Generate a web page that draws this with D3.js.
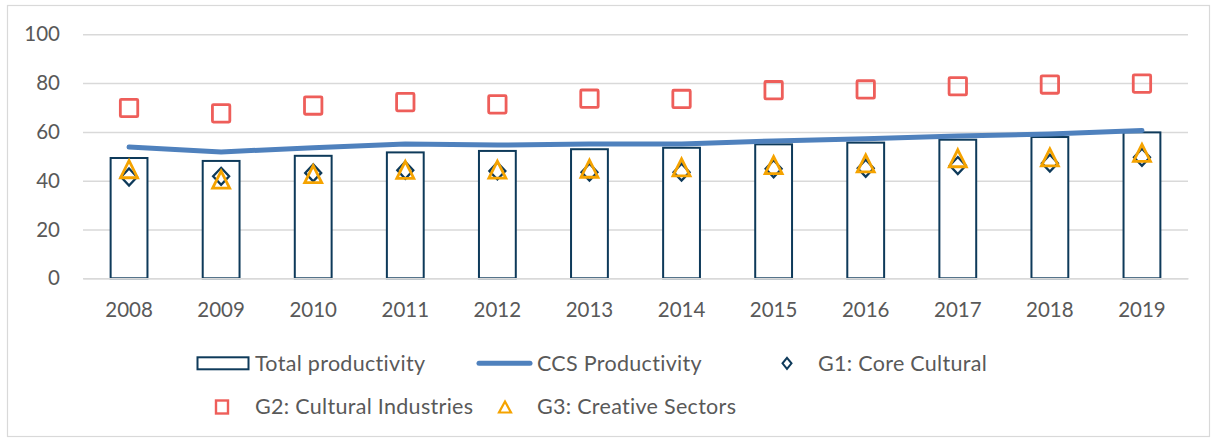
<!DOCTYPE html>
<html>
<head>
<meta charset="utf-8">
<script src="https://cdn.jsdelivr.net/npm/d3@7"></script>
<style>
  html, body { margin: 0; padding: 0; background: #fff; }
  svg { display: block; font-family: Lato, "Open Sans", sans-serif; }
</style>
</head>
<body>
<svg id="chart" width="1212" height="439"></svg>
<script>
const years = ["2008","2009","2010","2011","2012","2013","2014","2015","2016","2017","2018","2019"];
const totalProductivity = [49.3, 48.1, 50.2, 51.6, 52.2, 52.9, 53.5, 54.9, 55.6, 56.8, 57.9, 59.8];
const ccsProductivity   = [53.8, 51.8, 53.5, 55.0, 54.6, 55.0, 55.0, 56.3, 57.2, 58.3, 59.1, 60.6];
const g1CoreCultural    = [41.5, 41.8, 43.2, 44.3, 44.0, 43.5, 43.5, 44.9, 45.1, 46.2, 47.2, 49.6];
const g2CulturalInd     = [69.8, 67.6, 70.8, 72.2, 71.3, 73.6, 73.5, 77.1, 77.4, 78.7, 79.4, 79.8];
const g3CreativeSect    = [44.7, 40.4, 42.7, 44.4, 44.5, 44.9, 45.5, 46.4, 47.1, 49.2, 49.6, 51.4];
const yTicks = [0, 20, 40, 60, 80, 100];
const legendLabels = ["Total productivity", "CCS Productivity", "G1: Core Cultural", "G2: Cultural Industries", "G3: Creative Sectors"];

const C = {
  text: "#595959", grid: "#d9d9d9", bar: "#0e3a5a", line: "#4f81bd",
  g1: "#0e3a5a", g2: "#ee5e5a", g3: "#f5a300", border: "#d9d9d9"
};
const FS = 20.5, LFS = 21.5;
const L = 83, R = 1188, T = 34.3, B = 278.3;

const svg = d3.select("#chart");

// outer border
svg.append("rect").attr("x", 7.5).attr("y", 5.5).attr("width", 1202).attr("height", 431)
  .attr("fill", "#fff").attr("stroke", C.border).attr("stroke-width", 1.2);

const x = d3.scaleBand().domain(years).range([L, R]).paddingInner(0.6).paddingOuter(0.3);
const y = d3.scaleLinear().domain([0, 100]).range([B, T]);
const cx = d => x(d) + x.bandwidth() / 2;

// gridlines
const grid = svg.append("g").attr("transform", `translate(${L},0)`)
  .call(d3.axisLeft(y).tickValues(yTicks).tickSize(-(R - L)).tickFormat(""));
grid.select(".domain").remove();
grid.selectAll("line").attr("stroke", C.grid).attr("stroke-width", 1.5);

// y labels
const ya = svg.append("g").attr("transform", `translate(${L},0)`)
  .call(d3.axisLeft(y).tickValues(yTicks).tickSize(0).tickPadding(23));
ya.select(".domain").remove();
ya.selectAll("text").attr("fill", C.text).style("font-size", FS + "px").style("font-family", "Lato");

// bars
svg.append("g").selectAll("rect").data(years).join("rect")
  .attr("x", d => x(d)).attr("width", x.bandwidth())
  .attr("y", (d, i) => y(totalProductivity[i]))
  .attr("height", (d, i) => y(0) - y(totalProductivity[i]))
  .attr("fill", "#fff").attr("stroke", C.bar).attr("stroke-width", 2);

// x axis baseline + labels
const xa = svg.append("g").attr("transform", `translate(0,${B})`)
  .call(d3.axisBottom(x).tickSize(0).tickPadding(24));
xa.select(".domain").attr("stroke", C.grid).attr("stroke-width", 1.5);
xa.selectAll("text").attr("fill", C.text).style("font-size", FS + "px").style("font-family", "Lato");

// CCS line
const lineGen = d3.line().x((d, i) => cx(years[i])).y(d => y(d));
svg.append("path").datum(ccsProductivity).attr("d", lineGen)
  .attr("fill", "none").attr("stroke", C.line).attr("stroke-width", 5)
  .attr("stroke-linecap", "round").attr("stroke-linejoin", "round");

// markers
const diamondPath = (w, h) => `M0,${-h/2}L${w/2},0L0,${h/2}L${-w/2},0Z`;
const trianglePath = (w, h) => `M0,${-h/2}L${w/2},${h/2}L${-w/2},${h/2}Z`;

svg.append("g").selectAll("path").data(years).join("path")
  .attr("transform", (d, i) => `translate(${cx(d)},${y(g1CoreCultural[i])})`)
  .attr("d", diamondPath(16, 17)).attr("fill", "none")
  .attr("stroke", C.g1).attr("stroke-width", 2.3);

svg.append("g").selectAll("rect").data(years).join("rect")
  .attr("x", (d) => cx(d) - 8.7).attr("y", (d, i) => y(g2CulturalInd[i]) - 8.7)
  .attr("width", 17.4).attr("height", 17.4).attr("rx", 1)
  .attr("fill", "none").attr("stroke", C.g2).attr("stroke-width", 2.8);

svg.append("g").selectAll("path").data(years).join("path")
  .attr("transform", (d, i) => `translate(${cx(d)},${y(g3CreativeSect[i])})`)
  .attr("d", trianglePath(17, 17)).attr("fill", "none")
  .attr("stroke", C.g3).attr("stroke-width", 2.8).attr("stroke-linejoin", "miter");

// legend
const lg = svg.append("g").style("font-size", LFS + "px").style("font-family", "Lato")
  .style("letter-spacing", "0.3px").attr("fill", C.text);
const row1 = 363.3, row2 = 407;
const base1 = 370.7, base2 = 414.3;
// Total productivity
lg.append("rect").attr("x", 197.5).attr("y", row1 - 6).attr("width", 51).attr("height", 12)
  .attr("fill", "#fff").attr("stroke", C.bar).attr("stroke-width", 2);
lg.append("text").attr("x", 255).attr("y", base1).text(legendLabels[0]);
// CCS
lg.append("line").attr("x1", 479).attr("x2", 530).attr("y1", row1).attr("y2", row1)
  .attr("stroke", C.line).attr("stroke-width", 5).attr("stroke-linecap", "round");
lg.append("text").attr("x", 537).attr("y", base1).text(legendLabels[1]);
// G1
lg.append("path").attr("transform", `translate(787,${row1})`).attr("d", diamondPath(9, 11))
  .attr("fill", "none").attr("stroke", C.g1).attr("stroke-width", 2);
lg.append("text").attr("x", 818).attr("y", base1).text(legendLabels[2]);
// G2
lg.append("rect").attr("x", 222 - 6).attr("y", row2 - 6.5).attr("width", 12).attr("height", 13)
  .attr("fill", "none").attr("stroke", C.g2).attr("stroke-width", 2.4);
lg.append("text").attr("x", 255).attr("y", base2).text(legendLabels[3]);
// G3
lg.append("path").attr("transform", `translate(505,${row2})`).attr("d", trianglePath(12, 11))
  .attr("fill", "none").attr("stroke", C.g3).attr("stroke-width", 2.2);
lg.append("text").attr("x", 537).attr("y", base2).text(legendLabels[4]);
</script>
</body>
</html>
